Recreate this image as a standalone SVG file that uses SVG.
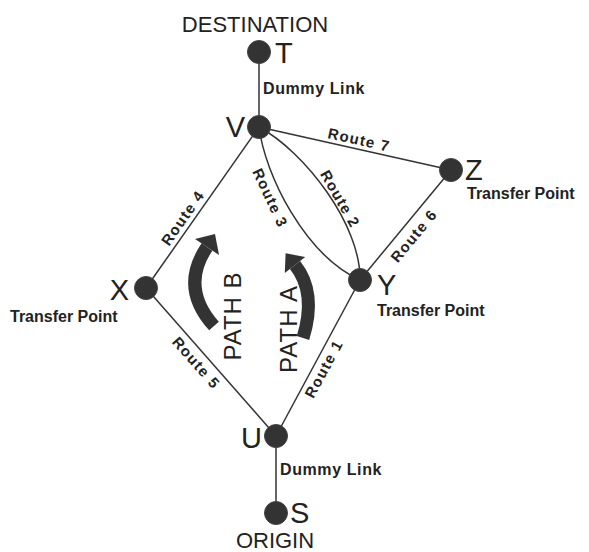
<svg xmlns="http://www.w3.org/2000/svg" width="589" height="552" viewBox="0 0 589 552">
<style>
.edge{fill:none;stroke:#333;stroke-width:1.5}
.node{fill:#333;stroke:#444;stroke-width:1}
.big{font-family:"Liberation Sans",Arial,sans-serif;font-size:29px;fill:#222}
.cap{font-family:"Liberation Sans",Arial,sans-serif;font-size:22px;fill:#222}
.lbl{font-family:"Liberation Sans",Arial,sans-serif;font-size:16px;font-weight:bold;fill:#222}
.rt{font-family:"Liberation Sans",Arial,sans-serif;font-size:15px;font-weight:bold;fill:#222;letter-spacing:1.2px;text-anchor:middle}
.path{font-family:"Liberation Sans",Arial,sans-serif;font-size:24px;fill:#222;text-anchor:middle;letter-spacing:1px}
.arrow{fill:none;stroke:#333;stroke-width:13}
.head{fill:#333}
</style>
<rect width="589" height="552" fill="#fff"/>
<g id="connectors">
<line class="edge" x1="259" y1="52" x2="259" y2="127"/>
<line class="edge" x1="276" y1="436" x2="276" y2="513"/>
<line class="edge" x1="259" y1="127" x2="451" y2="170"/>
<line class="edge" x1="259" y1="127" x2="146" y2="288"/>
<line class="edge" x1="146" y1="288" x2="276" y2="436"/>
<line class="edge" x1="276" y1="436" x2="360" y2="280"/>
<line class="edge" x1="360" y1="280" x2="451" y2="170"/>
<path class="edge" d="M259,127 C265,175 305,255 360,280"/>
<path class="edge" d="M259,127 C305,152 361,225 360,280"/>
</g>
<g id="edge-labels">
<text class="rt" transform="translate(359,140) rotate(12.6)" y="5">Route 7</text>
<text class="rt" transform="translate(183,218) rotate(-55)" y="5">Route 4</text>
<text class="rt" transform="translate(270,198) rotate(65)" y="5">Route 3</text>
<text class="rt" transform="translate(340,199) rotate(60)" y="5">Route 2</text>
<text class="rt" transform="translate(414,236) rotate(-50.4)" y="5">Route 6</text>
<text class="rt" transform="translate(324,369) rotate(-61.7)" y="5">Route 1</text>
<text class="rt" transform="translate(196,363) rotate(48.5)" y="5">Route 5</text>
<text class="lbl" x="263" y="94" letter-spacing="0.6">Dummy Link</text>
<text class="lbl" x="280" y="475" letter-spacing="0.6">Dummy Link</text>
</g>
<g id="path-b">
<path class="arrow" d="M207,247 Q179.5,287.5 214,326"/>
<polygon class="head" points="215,234 219,255 195,239"/>
<text class="path" transform="translate(241,316) rotate(-90)">PATH B</text>
</g>
<g id="path-a">
<path class="arrow" d="M295,265 Q317,292.5 303,338"/>
<polygon class="head" points="285.6,253.3 305.2,256.9 284.8,273.1"/>
<text class="path" transform="translate(297,329) rotate(-90)">PATH A</text>
</g>
<g id="node-T">
<circle class="node" cx="259" cy="52" r="11.5"/>
<text class="big" x="275" y="63">T</text>
<text class="cap" x="255" y="32" text-anchor="middle">DESTINATION</text>
</g>
<g id="node-V">
<circle class="node" cx="259" cy="127" r="11.5"/>
<text class="big" x="245" y="137" text-anchor="end">V</text>
</g>
<g id="node-Z">
<circle class="node" cx="451" cy="170" r="11.5"/>
<text class="big" x="465" y="180">Z</text>
<text class="lbl" x="467" y="199">Transfer Point</text>
</g>
<g id="node-Y">
<circle class="node" cx="360" cy="280" r="11.5"/>
<text class="big" x="377" y="295">Y</text>
<text class="lbl" x="377" y="316">Transfer Point</text>
</g>
<g id="node-X">
<circle class="node" cx="146" cy="288" r="11.5"/>
<text class="big" x="129" y="300" text-anchor="end">X</text>
<text class="lbl" x="10" y="322">Transfer Point</text>
</g>
<g id="node-U">
<circle class="node" cx="276" cy="436" r="11.5"/>
<text class="big" x="262" y="448" text-anchor="end">U</text>
</g>
<g id="node-S">
<circle class="node" cx="276" cy="513" r="11.5"/>
<text class="big" x="290" y="523">S</text>
<text class="cap" x="275" y="548" text-anchor="middle">ORIGIN</text>
</g>
</svg>
